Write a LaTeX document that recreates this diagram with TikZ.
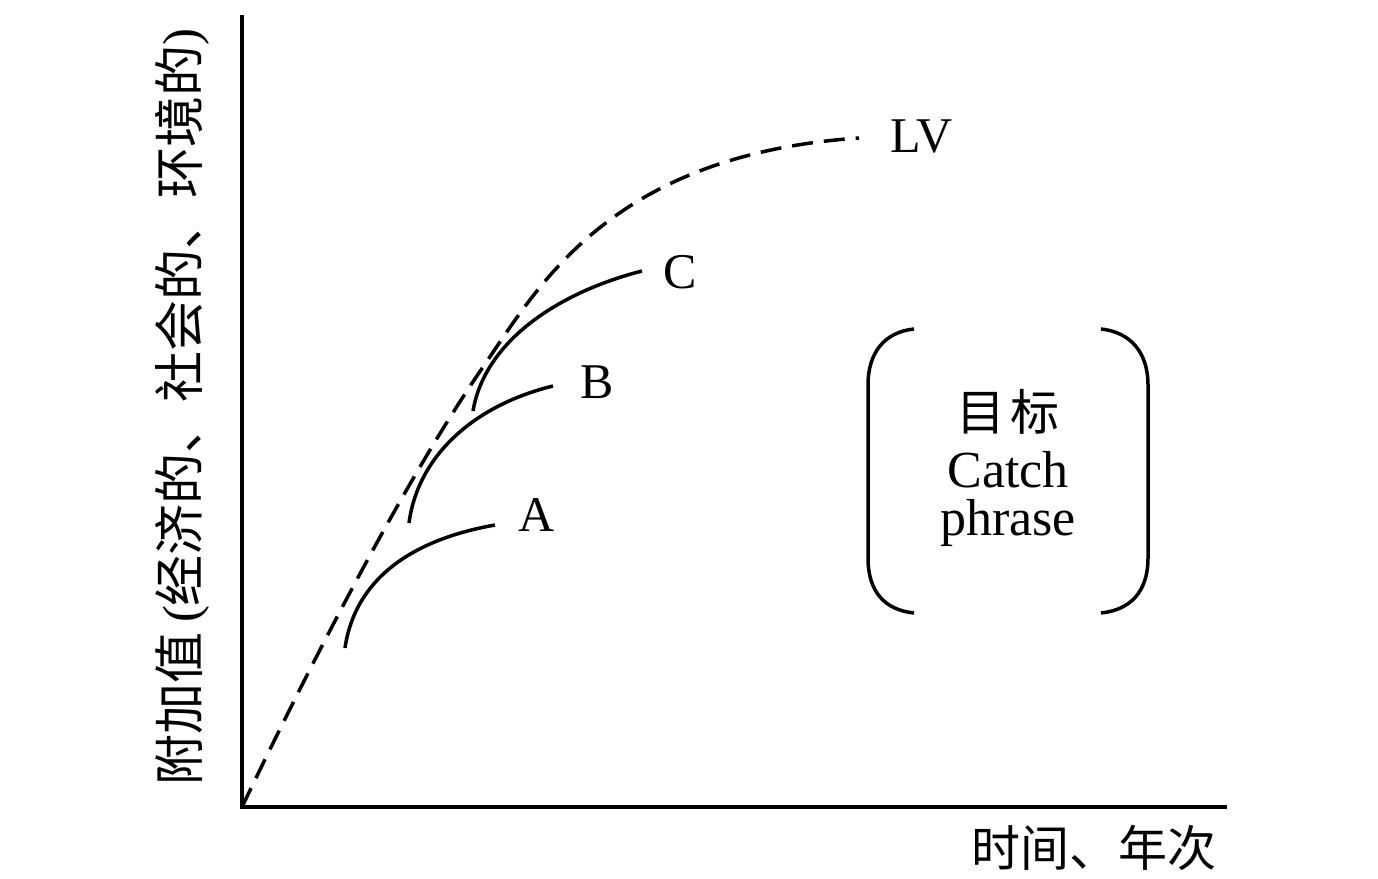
\documentclass[tikz,border=0pt]{standalone}
\usepackage{fontspec}
\setmainfont{Liberation Serif}
\newfontfamily\cjk{Noto Sans CJK SC}
\begin{document}
\begin{tikzpicture}[x=1pt,y=-1pt,
  line/.style={line width=3.5pt},
  dashline/.style={line width=3.5pt, dash pattern=on 21pt off 11pt},
  lbl/.style={font=\fontsize{50}{60}\selectfont, inner sep=0pt},
  cjklbl/.style={font=\fontsize{49}{56}\selectfont\cjk, inner sep=0pt}]
\useasboundingbox (0,0) rectangle (1378,878);
% axes
\coordinate (O) at (242,807);
\coordinate (Ytop) at (242,15);
\coordinate (Xend) at (1227,807);
\draw[line] (Ytop) -- (O) -- (Xend);
% LV dashed
\coordinate (LVm) at (483,367);
\coordinate (LVend) at (859,138);
\draw[dashline] (O) .. controls (310,665) and (405,480) .. (LVm)
  .. controls (538,287) and (610,155) .. (LVend);
\node[lbl] (LV) at (922,137) {LV};
% A, B, C curves
\coordinate (As) at (345,648); \coordinate (Ae) at (495,525);
\coordinate (Bs) at (409,523); \coordinate (Be) at (553,386);
\coordinate (Cs) at (473,411); \coordinate (Ce) at (642,271);
\draw[line] (As) .. controls (355,580) and (410,540) .. (Ae);
\draw[line] (Bs) .. controls (418,455) and (475,405) .. (Be);
\draw[line] (Cs) .. controls (485,340) and (560,292) .. (Ce);
\node[lbl] (A) at (537,515) {A};
\node[lbl] (B) at (597,382) {B};
\node[lbl] (C) at (680,272) {C};
% brackets
\coordinate (L1) at (914,329); \coordinate (L2) at (914,613);
\coordinate (R1) at (1101,329); \coordinate (R2) at (1101,613);
\draw[line] (L1) .. controls (885,332) and (868,352) .. (868,385) -- (868,558)
  .. controls (868,592) and (885,610) .. (L2);
\draw[line] (R1) .. controls (1130,332) and (1148,352) .. (1148,385) -- (1148,558)
  .. controls (1148,592) and (1130,610) .. (R2);
\node[cjklbl] (goal) at (1008,412) {目\hspace{6pt}标};
\node[lbl, font=\fontsize{52}{60}\selectfont] (catch) at (1008,470) {Catch};
\node[lbl, font=\fontsize{52}{60}\selectfont] (phrase) at (1008,523) {phrase};
% axis labels
\node[cjklbl] (xlab) at (1094,848) {时间、年次};
\node[cjklbl, font=\fontsize{51}{56}\selectfont\cjk, rotate=90] (ylab) at (182,407) {附加值\hspace{10pt}{\rmfamily(}经济的、社会的、环境的{\rmfamily)}};
\end{tikzpicture}
\end{document}
